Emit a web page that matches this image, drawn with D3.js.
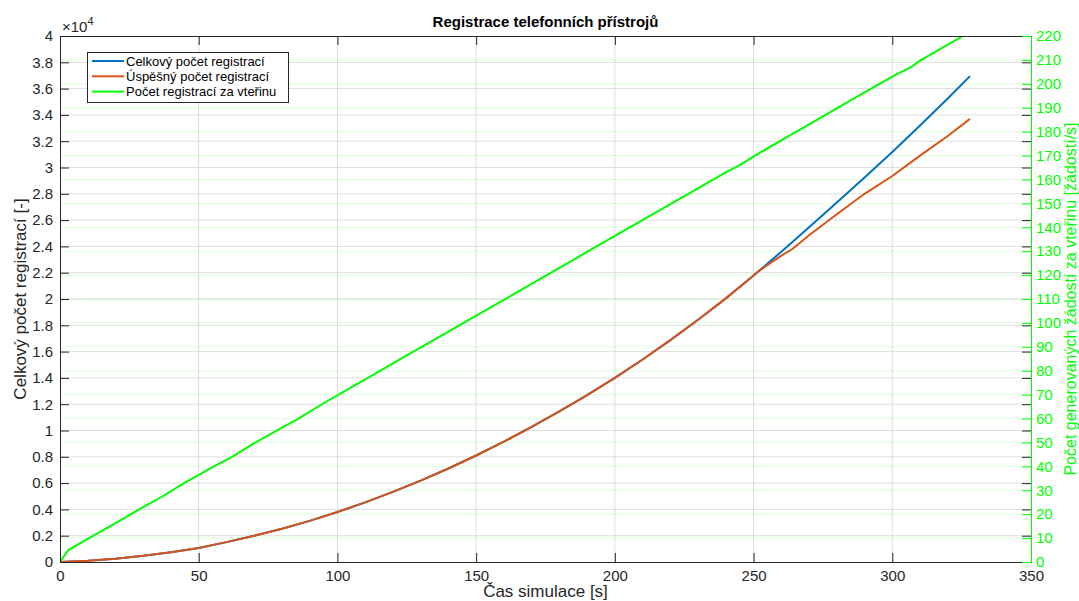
<!DOCTYPE html>
<html>
<head>
<meta charset="utf-8">
<script src="https://cdn.jsdelivr.net/npm/d3@7"></script>
<style>
  body { margin: 0; background: #fff; }
  svg { font-family: "Liberation Sans", Arial, sans-serif; }
</style>
</head>
<body>
<svg id="chart" width="1079" height="601"></svg>
<script>
const width = 1079;
const height = 601;

// time axis [s]
const times = [0, 10, 20, 30, 40, 50, 60, 70, 80, 90, 100, 110, 120, 130, 140, 150, 160, 170, 180, 190, 200,
  210, 220, 230, 240, 250, 252, 260, 264, 270, 280, 290, 300, 310, 320, 328];

// total registrations
const totalRegs = [0, 90, 250, 470, 750, 1070, 1510, 1990, 2530, 3130, 3800, 4530, 5330, 6190, 7110, 8100, 9150,
  10270, 11450, 12690, 14000, 15400, 16870, 18420, 20050, 21780, 22140, 23600, 24330, 25450, 27330, 29240,
  31180, 33200, 35250, 36950];

// successful registrations
const okRegs = [0, 90, 250, 470, 750, 1070, 1510, 1990, 2530, 3130, 3800, 4530, 5330, 6190, 7110, 8100, 9150,
  10270, 11450, 12690, 14000, 15400, 16870, 18420, 20050, 21780, 22140, 23300, 23800, 24850, 26450, 28000,
  29350, 30900, 32400, 33700];

// registrations per second (right axis)
const rateTimes = [0, 3, 10, 20, 30, 37, 45, 55, 62, 70, 80, 85, 95, 110, 125, 140, 150, 165, 180, 200, 220,
  240, 245, 252, 262, 275, 290, 300, 307, 310, 315, 325, 330];
const rateValues = [0, 5, 9.7, 16.3, 23, 27.5, 33.2, 39.7, 44, 49.7, 56.2, 59.3, 66.4, 76.4, 86.4, 96.4, 103,
  113, 123, 136.4, 149.7, 163, 166, 171, 177.7, 186.4, 196.4, 203, 207.2, 209.7, 213, 219.7, 223];

const xTicks = d3.range(0, 351, 50);
const yTicks = d3.range(0, 40001, 2000);
const y2Ticks = d3.range(0, 221, 10);

const legendLabels = ["Celkový počet registrací", "Úspěšný počet registrací", "Počet registrací za vteřinu"];
const colors = ["#0072BD", "#D95319", "#00FF00"];

const m = { left: 60, right: 1031, top: 36, bottom: 562 };
const axisColor = "#262626";

const svg = d3.select("#chart");

const x = d3.scaleLinear().domain([0, 350]).range([m.left, m.right]);
const y = d3.scaleLinear().domain([0, 40000]).range([m.bottom, m.top]);
const y2 = d3.scaleLinear().domain([0, 220]).range([m.bottom, m.top]);

// grids
const grid = svg.append("g");
grid.selectAll(".gx").data(xTicks.slice(1, -1)).enter().append("line")
  .attr("x1", d => x(d)).attr("x2", d => x(d))
  .attr("y1", m.top).attr("y2", m.bottom)
  .attr("stroke", "#dedede").attr("stroke-width", 1);
grid.selectAll(".gy").data(yTicks.slice(1, -1)).enter().append("line")
  .attr("x1", m.left).attr("x2", m.right)
  .attr("y1", d => y(d)).attr("y2", d => y(d))
  .attr("stroke", "#dedede").attr("stroke-width", 1);
grid.selectAll(".gy2").data(y2Ticks.slice(1, -1)).enter().append("line")
  .attr("x1", m.left).attr("x2", m.right)
  .attr("y1", d => y2(d)).attr("y2", d => y2(d))
  .attr("stroke", "#00ff00").attr("stroke-opacity", 0.15).attr("stroke-width", 1);

// clip for lines
svg.append("clipPath").attr("id", "clip").append("rect")
  .attr("x", m.left).attr("y", m.top).attr("width", m.right - m.left).attr("height", m.bottom - m.top);

const lines = svg.append("g").attr("clip-path", "url(#clip)");
const line1 = d3.line().x((d, i) => x(times[i])).y(d => y(d));
const line2 = d3.line().x((d, i) => x(rateTimes[i])).y(d => y2(d));

lines.append("path").datum(totalRegs).attr("d", line1)
  .attr("fill", "none").attr("stroke", colors[0]).attr("stroke-width", 2);
lines.append("path").datum(okRegs).attr("d", line1)
  .attr("fill", "none").attr("stroke", colors[1]).attr("stroke-width", 2);
lines.append("path").datum(rateValues).attr("d", line2)
  .attr("fill", "none").attr("stroke", colors[2]).attr("stroke-width", 2);

// axes
const tickLen = 9;
const fmtY = d => String(+(d / 10000).toFixed(1));

const gx = svg.append("g").attr("transform", `translate(0,${m.bottom})`)
  .call(d3.axisBottom(x).tickValues(xTicks).tickSizeInner(-tickLen).tickSizeOuter(0).tickPadding(8));
const gxTop = svg.append("g").attr("transform", `translate(0,${m.top})`)
  .call(d3.axisTop(x).tickValues(xTicks).tickSizeInner(-tickLen).tickSizeOuter(0).tickFormat(""));
const gy = svg.append("g").attr("transform", `translate(${m.left},0)`)
  .call(d3.axisLeft(y).tickValues(yTicks).tickSizeInner(-tickLen).tickSizeOuter(0).tickPadding(7).tickFormat(fmtY));
const gyR = svg.append("g").attr("transform", `translate(${m.right},0)`)
  .call(d3.axisRight(y).tickValues(yTicks).tickSizeInner(-tickLen).tickSizeOuter(0).tickFormat(""));
const gy2 = svg.append("g").attr("transform", `translate(${m.right},0)`)
  .call(d3.axisRight(y2).tickValues(y2Ticks).tickSizeInner(-tickLen).tickSizeOuter(0).tickPadding(5));

[gx, gxTop, gy, gyR].forEach(g => {
  g.select(".domain").attr("stroke", axisColor);
  g.selectAll(".tick line").attr("stroke", axisColor);
  g.selectAll("text").attr("fill", axisColor).style("font-size", "15px");
});
gy2.select(".domain").attr("stroke", "#00ff00");
gy2.selectAll(".tick line").attr("stroke", "#00ff00");
gy2.selectAll("text").attr("fill", "#00ff00").style("font-size", "15px");
gx.selectAll(".tick").filter(d => d === 0 || d === 350).select("line").remove();

// exponent
const expo = svg.append("text").attr("x", 62).attr("y", 32).attr("fill", axisColor).style("font-size", "15px");
expo.append("tspan").text("×10");
expo.append("tspan").attr("dy", -7).style("font-size", "11px").text("4");

// title and labels
svg.append("text").attr("x", (m.left + m.right) / 2).attr("y", 27).attr("text-anchor", "middle")
  .style("font-size", "15px").style("font-weight", "bold").attr("fill", "#000")
  .text("Registrace telefonních přístrojů");
svg.append("text").attr("x", (m.left + m.right) / 2).attr("y", 597).attr("text-anchor", "middle")
  .style("font-size", "17px").attr("fill", axisColor).text("Čas simulace [s]");
svg.append("text").attr("transform", `translate(26,${(m.top + m.bottom) / 2}) rotate(-90)`)
  .attr("text-anchor", "middle").style("font-size", "17px").attr("fill", axisColor)
  .text("Celkový počet registrací [-]");
svg.append("text").attr("transform", `translate(1076,${(m.top + m.bottom) / 2}) rotate(-90)`)
  .attr("text-anchor", "middle").style("font-size", "16px").attr("fill", "#00ff00")
  .text("Počet generovaných žádostí za vteřinu [žádostí/s]");

// legend
const leg = svg.append("g");
leg.append("rect").attr("x", 87.5).attr("y", 52.5).attr("width", 201).attr("height", 50)
  .attr("fill", "#fff").attr("stroke", axisColor).attr("stroke-width", 1);
legendLabels.forEach((t, i) => {
  const yy = 61 + i * 15.3;
  leg.append("line").attr("x1", 92).attr("x2", 124).attr("y1", yy).attr("y2", yy)
    .attr("stroke", colors[i]).attr("stroke-width", 2);
  leg.append("text").attr("x", 126).attr("y", yy + 4.5).style("font-size", "13px").attr("fill", "#000").text(t);
});
</script>
</body>
</html>
